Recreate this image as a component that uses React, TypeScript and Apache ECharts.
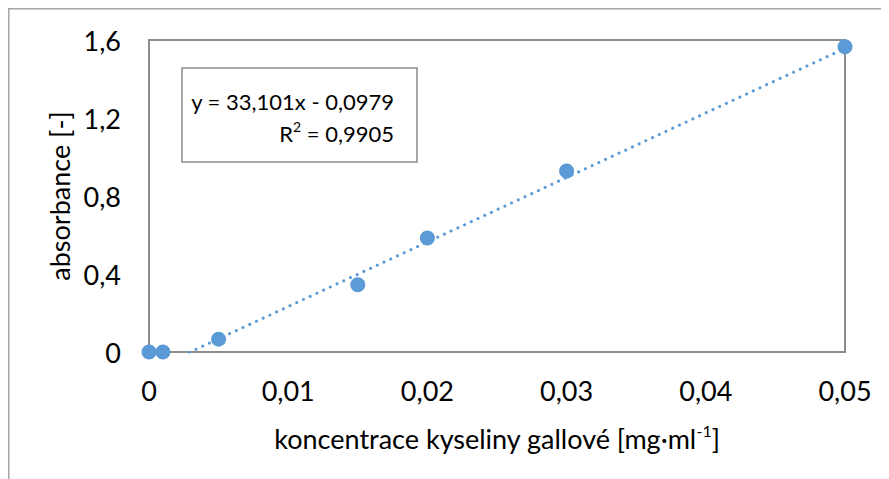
import React, { useEffect, useRef } from "react";
import * as echarts from "echarts";

// Measured data (concentration mg/ml, absorbance)
const concentrations = [0, 0.001, 0.005, 0.015, 0.02, 0.03, 0.05];
const absorbances = [0, 0, 0.066, 0.345, 0.585, 0.928, 1.565];

// Linear trend line shown on the chart
const trendSlope = 33.101;
const trendIntercept = -0.0979;
const trendRange = [0, 0.05];
const rSquared = "0,9905";

const xTicks = { min: 0, max: 0.05, interval: 0.01 };
const yTicks = { min: 0, max: 1.6, interval: 0.4 };

const FONT = "Lato, 'Open Sans', sans-serif";
const FS = 27;
const BOX_FS = 22;
const BLUE = "#5B9BD5";
const GRAY = "#8c8c8c";

const fmt = (v: number) => String(+v.toFixed(4)).replace(".", ",");

export default function App() {
  const ref = useRef<HTMLDivElement>(null);
  useEffect(() => {
    if (!ref.current) return;
    const chart = echarts.init(ref.current, null, { renderer: "svg" });
    const pts = concentrations.map((x, i) => [x, absorbances[i]]);
    const trend = trendRange.map((x) => [x, trendSlope * x + trendIntercept]);
    chart.setOption({
      animation: false,
      textStyle: { fontFamily: FONT, color: "#000" },
      grid: {
        left: 141,
        top: 32,
        width: 696,
        height: 312,
        show: true,
        borderColor: GRAY,
        borderWidth: 2,
        backgroundColor: "transparent",
      },
      xAxis: {
        type: "value",
        min: xTicks.min,
        max: xTicks.max,
        interval: xTicks.interval,
        axisLine: { show: false },
        axisTick: { show: false },
        splitLine: { show: false },
        axisLabel: {
          formatter: fmt,
          fontSize: FS,
          fontFamily: FONT,
          color: "#000",
          margin: 25,
        },
        name: "{a|koncentrace kyseliny gallové [mg·ml}{s|-1}{a|]}",
        nameLocation: "middle",
        nameGap: 70,
        nameTextStyle: {
          rich: {
            a: { fontSize: FS, fontFamily: FONT, color: "#000", lineHeight: 32 },
            s: { fontSize: 16, fontFamily: FONT, color: "#000", verticalAlign: "top", lineHeight: 32 },
          },
        },
      },
      yAxis: {
        type: "value",
        min: yTicks.min,
        max: yTicks.max,
        interval: yTicks.interval,
        axisLine: { show: false },
        axisTick: { show: false },
        splitLine: { show: false },
        axisLabel: {
          formatter: fmt,
          fontSize: FS,
          fontFamily: FONT,
          color: "#000",
          margin: 28,
        },
        name: "absorbance [-]",
        nameLocation: "middle",
        nameGap: 74,
        nameTextStyle: { fontSize: FS, fontFamily: FONT, color: "#000" },
      },
      graphic: [
        {
          type: "rect",
          shape: { x: 0, y: 0, width: 3000, height: 3000 },
          style: { fill: "none", stroke: "#a6a6a6", lineWidth: 3 },
          silent: true,
        },
        {
          type: "rect",
          shape: { x: 174, y: 60, width: 235, height: 94 },
          style: { fill: "#fff", stroke: GRAY, lineWidth: 1.5 },
          z: 10,
        },
        {
          type: "text",
          x: 386,
          y: 93,
          z: 11,
          style: {
            text: "y = 33,101x - 0,0979",
            fontSize: BOX_FS,
            fontFamily: FONT,
            fill: "#000",
            align: "right",
            verticalAlign: "middle",
          },
        },
        {
          type: "text",
          x: 386,
          y: 125,
          z: 11,
          style: {
            text: "{a|R}{s|2}{a| = " + rSquared + "}",
            align: "right",
            verticalAlign: "middle",
            rich: {
              a: { fontSize: BOX_FS, fontFamily: FONT, fill: "#000", lineHeight: 28 },
              s: { fontSize: 14, fontFamily: FONT, fill: "#000", verticalAlign: "top", lineHeight: 28 },
            },
          },
        },
      ],
      series: [
        {
          type: "line",
          data: trend,
          symbol: "none",
          clip: true,
          z: 2,
          lineStyle: { color: BLUE, width: 3, type: [0.1, 7.3], cap: "round" },
        },
        {
          type: "scatter",
          data: pts,
          symbol: "circle",
          symbolSize: 15,
          z: 3,
          itemStyle: { color: BLUE, opacity: 1 },
        },
      ],
    });
    return () => chart.dispose();
  }, []);
  return <div ref={ref} style={{ width: 881, height: 471 }} />;
}
